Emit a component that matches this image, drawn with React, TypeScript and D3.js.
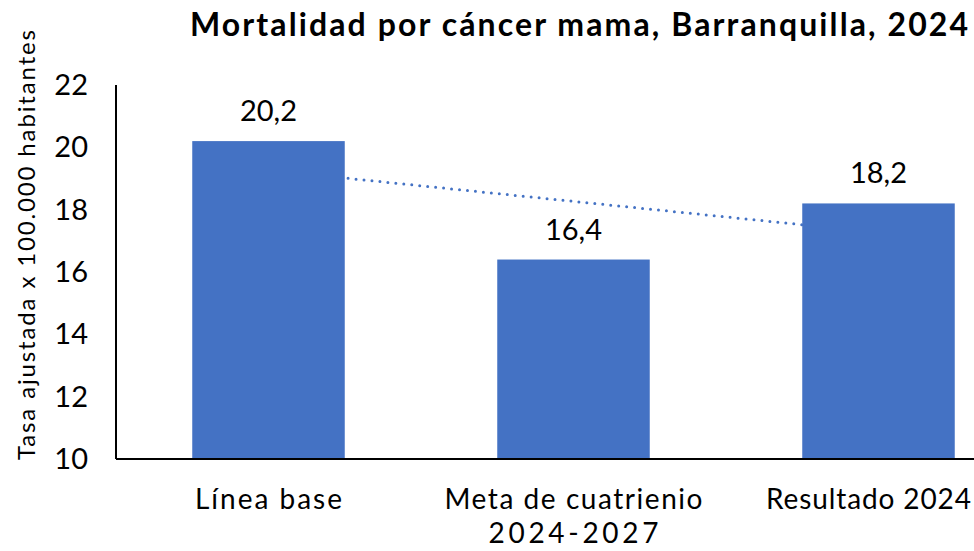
import React from 'react';
import * as d3 from 'd3';

// Chart data
const categories = ['Línea base', 'Meta de cuatrienio\n2024-2027', 'Resultado 2024'];
const values = [20.2, 16.4, 18.2];
const yTicks = [10, 12, 14, 16, 18, 20, 22];

const W = 974;
const H = 551;
const FONT = 'Lato, "Open Sans", sans-serif';
const BLUE = '#4472C4';

// Width of each label line in the reference (its font is wider than Lato)
const lineWidths: Record<string, number> = {
    'Línea base': 147,
    'Meta de cuatrienio': 258,
    '2024-2027': 170,
    'Resultado 2024': 205,
};

const App = () => {
    // Plot area; the right side runs past the window like in the source picture
    const left = 116;
    const band = 305;
    const top = 85;
    const bottom = 459;

    const x = d3.scaleBand<string>()
        .domain(categories)
        .range([left, left + band * categories.length])
        .paddingInner(0.5)
        .paddingOuter(0.25);

    const y = d3.scaleLinear().domain([10, 22]).range([bottom, top]);

    // Linear trend through the three points (Excel style trendline)
    const idx = values.map((_, i) => i + 1);
    const mx = d3.mean(idx) as number;
    const my = d3.mean(values) as number;
    const slope = d3.sum(idx, (v, i) => (v - mx) * (values[i] - my)) / d3.sum(idx, v => (v - mx) ** 2);
    const trend = (i: number) => my + slope * (i - mx);

    const cx = (c: string) => (x(c) as number) + x.bandwidth() / 2;
    const trendLine = d3.line<number>()
        .x(i => cx(categories[i]))
        .y(i => y(trend(i + 1)));

    // keep the labels inside the window
    const labelX = (c: string, line: string) =>
        Math.min(cx(c) - lineWidths[line] / 2, W - 3 - lineWidths[line]);

    return (
        <svg width={W} height={H} style={{ position: 'absolute', left: 0, top: 0 }} fontFamily={FONT}>
            <rect width={W} height={H} fill="#fff" />

            {/* title */}
            <text x={190} y={36} fontSize={32} fontWeight={700} fill="#000" textLength={778} lengthAdjust="spacing">
                Mortalidad por cáncer mama, Barranquilla, 2024
            </text>

            {/* y axis label */}
            <text transform={`translate(35,245) rotate(-90)`} textAnchor="middle" fontSize={24} fill="#000"
                textLength={430} lengthAdjust="spacing">
                Tasa ajustada x 100.000 habitantes
            </text>

            {/* trendline, drawn under the bars */}
            <path d={trendLine(idx.map((_, i) => i)) as string} fill="none" stroke={BLUE} strokeWidth={3}
                strokeDasharray="0 8" strokeLinecap="round" />

            {/* bars */}
            {categories.map((c, i) => (
                <rect key={c} x={x(c)} y={y(values[i])} width={x.bandwidth()} height={bottom - y(values[i])} fill={BLUE} />
            ))}

            {/* value labels */}
            {categories.map((c, i) => (
                <text key={c} x={cx(c)} y={y(values[i]) - 20} textAnchor="middle" fontSize={29} fill="#000">
                    {values[i].toFixed(1).replace('.', ',')}
                </text>
            ))}

            {/* axes */}
            <line x1={left} x2={left} y1={top} y2={bottom} stroke="#000" strokeWidth={2} />
            <line x1={left} x2={W} y1={bottom} y2={bottom} stroke="#000" strokeWidth={2} />

            {yTicks.map(t => (
                <text key={t} x={88} y={y(t) + 10} textAnchor="end" fontSize={29} fill="#000">{t}</text>
            ))}

            {/* category labels */}
            {categories.map(c => (
                c.split('\n').map((line, j) => (
                    <text key={c + j} x={labelX(c, line)} y={509 + j * 34} fontSize={28} fill="#000"
                        textLength={lineWidths[line]} lengthAdjust="spacing">
                        {line}
                    </text>
                ))
            ))}
        </svg>
    );
};

export default App;
